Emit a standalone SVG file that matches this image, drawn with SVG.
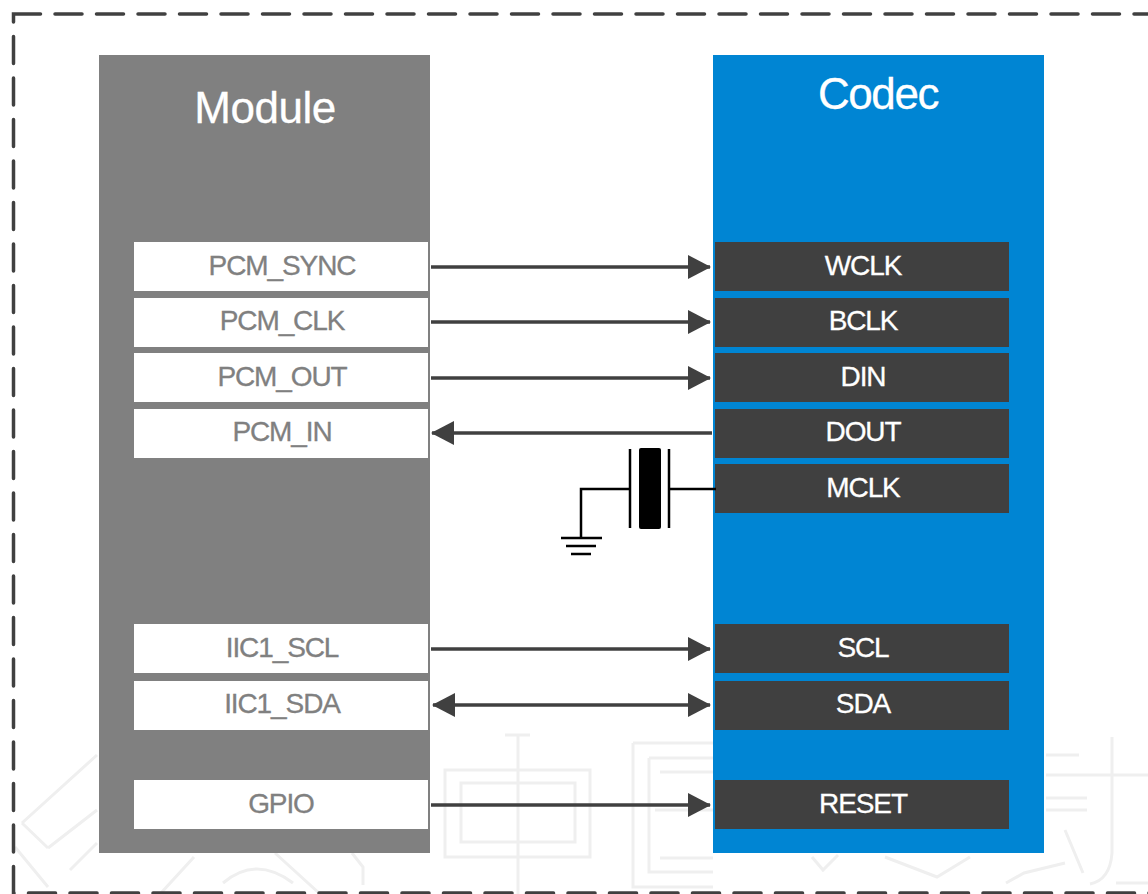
<svg xmlns="http://www.w3.org/2000/svg" width="1148" height="894" viewBox="0 0 1148 894">
<style>
text{font-family:"Liberation Sans",Arial,sans-serif;text-anchor:middle}
.l{font-size:28px;fill:#808080;stroke:#808080;stroke-width:.3;letter-spacing:-1.1px}
.r{font-size:28px;fill:#fff;stroke:#fff;stroke-width:.3;letter-spacing:-1.1px}
.t{font-size:44px;fill:#fff;stroke:#fff;stroke-width:.3}
.lb{fill:#fff}
.rb{fill:#404040}
.c{stroke:#404040;stroke-width:3.500;fill:none}
.x{stroke:#000;stroke-width:2.500;fill:none}
.w{stroke:#efefef;stroke-width:3;fill:none}
</style>
<defs>
<marker id="a" markerUnits="userSpaceOnUse" markerWidth="24" markerHeight="24" refX="22" refY="12" orient="auto-start-reverse"><path d="M0 0L23 12L0 24Z" fill="#404040"/></marker>
</defs>
<rect width="1148" height="894" fill="#fff"/>
<g id="watermark" class="w">
<path d="M22 823L97 755M48 848L97 810M22 823L48 848M15 847L48 887M70 870L97 843M161 893L194 857M223 883Q256 855 293 883M275 853L319 893M352 853L363 867V885"/>
<path d="M445 770H590V857H445ZM461 783H575V842H461ZM518 735V894M505 735H530"/>
<path d="M633 743H713M633 743V887H713M649 758H713M649 758V872H713M660 772H713M660 858H713M655 810H713"/>
<path d="M812 857L823 870L838 855M885 857L937 877L970 857"/>
<path d="M1046 755H1079M1046 775H1148M1046 798H1087M1046 810H1087M1065 830L1083 873M1006 883L1024 873L1065 863M1112 737V853Q1110 880 1090 884M1116 883H1148"/>
</g>
<rect id="border" x="13.500" y="14" width="1200" height="879" fill="none" stroke="#404040" stroke-width="3.500" stroke-dasharray="27 14.500" stroke-linecap="round"/>
<g id="module">
<rect x="99" y="55" width="331" height="798" fill="#808080"/>
<text class="t" x="265" y="123" letter-spacing="-.5">Module</text>
</g>
<g id="codec">
<rect x="713" y="55" width="331" height="798" fill="#0085d3"/>
<text class="t" x="878" y="109" letter-spacing="-1.400">Codec</text>
</g>
<g id="pcm-sync"><rect class="lb" x="134" y="242" width="294" height="49"/><text class="l" x="282" y="275">PCM_SYNC</text></g>
<g id="pcm-clk"><rect class="lb" x="134" y="298" width="294" height="49"/><text class="l" x="282" y="330">PCM_CLK</text></g>
<g id="pcm-out"><rect class="lb" x="134" y="353" width="294" height="49"/><text class="l" x="282" y="386">PCM_OUT</text></g>
<g id="pcm-in"><rect class="lb" x="134" y="409" width="294" height="49"/><text class="l" x="282" y="441">PCM_IN</text></g>
<g id="iic1-scl"><rect class="lb" x="134" y="624" width="294" height="49"/><text class="l" x="282" y="657">IIC1_SCL</text></g>
<g id="iic1-sda"><rect class="lb" x="134" y="681" width="294" height="49"/><text class="l" x="282" y="713">IIC1_SDA</text></g>
<g id="gpio"><rect class="lb" x="134" y="780" width="294" height="49"/><text class="l" x="281" y="813">GPIO</text></g>
<g id="wclk"><rect class="rb" x="715" y="242" width="294" height="49"/><text class="r" x="863" y="275">WCLK</text></g>
<g id="bclk"><rect class="rb" x="715" y="298" width="294" height="49"/><text class="r" x="863" y="330">BCLK</text></g>
<g id="din"><rect class="rb" x="715" y="353" width="294" height="49"/><text class="r" x="863" y="386">DIN</text></g>
<g id="dout"><rect class="rb" x="715" y="409" width="294" height="49"/><text class="r" x="863" y="441">DOUT</text></g>
<g id="mclk"><rect class="rb" x="715" y="464" width="294" height="49"/><text class="r" x="863" y="497">MCLK</text></g>
<g id="scl"><rect class="rb" x="715" y="624" width="294" height="49"/><text class="r" x="863" y="657">SCL</text></g>
<g id="sda"><rect class="rb" x="715" y="681" width="294" height="49"/><text class="r" x="863" y="713">SDA</text></g>
<g id="reset"><rect class="rb" x="715" y="780" width="294" height="49"/><text class="r" x="863" y="813">RESET</text></g>
<g id="connectors">
<path class="c" d="M431 267H710" marker-end="url(#a)"/>
<path class="c" d="M431 322H710" marker-end="url(#a)"/>
<path class="c" d="M431 378H710" marker-end="url(#a)"/>
<path class="c" d="M712 433H432" marker-end="url(#a)"/>
<path class="c" d="M431 649H710" marker-end="url(#a)"/>
<path class="c" d="M433 705H710" marker-start="url(#a)" marker-end="url(#a)"/>
<path class="c" d="M431 805H710" marker-end="url(#a)"/>
</g>
<g id="crystal">
<path class="x" d="M716 489H670M630 489H581V537M561 538H602M566 546H596M571 554H591M630 449V528M669 449V528"/>
<rect x="639" y="448" width="22" height="81" rx="2" fill="#000"/>
</g>
</svg>
